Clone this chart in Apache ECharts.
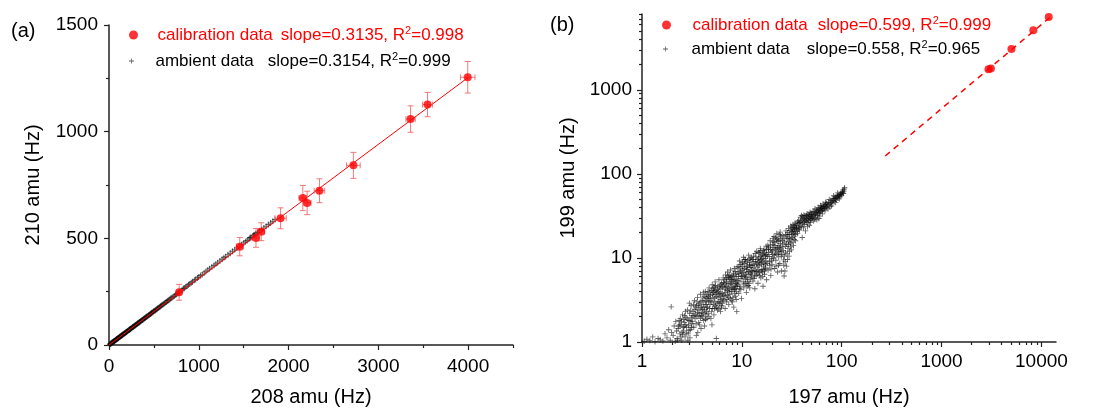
<!DOCTYPE html>
<html>
<head>
<meta charset="utf-8">
<script src="https://cdn.jsdelivr.net/npm/echarts@6.0.0/dist/echarts.min.js"></script>
<style>
  html, body { margin: 0; padding: 0; background: #fff; }
  #chart { width: 1110px; height: 412px; }
</style>
</head>
<body>
<div id="chart"></div>
<script>
// ---- panel (a) data: 208 amu vs 210 amu ----
var calA208 = [781, 1456, 1637, 1696, 1911, 2159, 2207, 2344, 2722, 3359, 3548, 3996];
var calA210 = [247, 461, 502, 531, 594, 689, 666, 723, 842, 1059, 1127, 1255];
var calA208Err = [22, 37, 37, 37, 63, 44, 44, 59, 76, 52, 55, 81];
var calA210Err = [37, 43, 44, 42, 49, 59, 55, 56, 61, 62, 57, 74];
var ambA = [
  [10,3],[14,5],[18,6],[22,7],[25,8],[29,9],[33,10],[36,12],[40,13],[44,14],[48,15],[52,16],
  [55,18],[58,18],[62,19],[66,21],[70,22],[74,24],[78,25],[82,26],[85,27],[89,28],[93,30],[97,30],
  [100,31],[105,33],[110,35],[114,36],[118,37],[122,39],[125,40],[130,41],[135,42],[138,44],
  [142,45],[146,46],[150,48],[155,49],[160,50],[165,52],[170,54],[174,55],[178,56],[183,58],
  [188,60],[192,60],[195,61],[200,63],[205,65],[210,66],[215,68],[220,70],[225,71],[228,72],
  [232,74],[236,74],[240,75],[245,78],[250,79],[256,81],[262,83],[266,84],[270,85],[275,87],
  [280,89],[285,90],[290,91],[295,93],[300,95],[306,96],[312,98],[316,100],[320,102],[326,103],
  [332,104],[336,106],[340,108],[346,109],[352,111],[358,113],[365,116],[370,117],[375,118],
  [382,120],[388,123],[394,124],[400,126],[406,128],[412,131],[418,132],[425,134],[432,136],
  [440,139],[448,141],[455,144],[462,146],[468,147],[474,150],[480,152],[488,154],[495,157],
  [502,159],[510,161],[518,163],[525,166],[532,168],[540,171],[550,174],[560,177],[568,179],
  [575,182],[582,184],[590,187],[600,190],[610,193],[620,196],[630,199],[640,202],[650,206],
  [660,209],[670,212],[680,215],[690,219],[702,222],[715,226],[728,230],[740,235],[752,238],
  [765,242],[778,246],[790,250],[815,259],[840,266],[870,277],[900,286],[930,296],[965,307],
  [1000,319],[1040,331],[1080,344],[1120,357],[1170,373],[1210,385],[1260,402],[1300,414],
  [1350,430],[1400,446],[1450,462],[1500,478],[1540,490],[1580,503],[1620,515],[1660,528],
  [1700,541],[1750,557],[1800,572],[1850,588],
  [830,265],[855,272],[885,282],[915,292],[950,303],[985,314],[1020,326],[1060,338],[1100,351],
  [1145,366],[1190,380],[1235,394],[1280,409],[1325,423],[1375,439],[1425,455],[1475,470],
  [1520,484],[1560,497],[1600,510],[1640,522],[1680,535],[1725,549],[1775,565],[1825,580],
  [1570,504],[1610,514],[1630,520],[1655,527]
];
var slopeA = 0.3135;
var fitA208 = [0, 4000];

// ---- panel (b) data: 197 amu vs 199 amu ----
var calB = [[2950, 1760], [3120, 1800], [5010, 3070], [8300, 5130], [11840, 7390]];
var slopeB = 0.599;
var fitB197 = [273, 12900];
var ambB = [
  [1.05,1.02],[1.12,1.08],[1.2,1.04],[1.28,1.15],[1.35,1.01],[1.45,1.1],[1.52,1.06],
  [1.62,1.03],[1.7,1.25],[1.78,1.12],[1.85,1.4],[1.92,1.05],[1.96,2.62],[2.05,1.2],[2.1,1.55],
  [2.15,1.02],[1.98,1.3],[2.18,1.75],
  [2.25,1.1],[2.3,1.45],[2.35,1.8],[2.4,1.25],[2.45,1.6],[2.5,1.05],[2.55,2.1],[2.6,1.35],
  [2.65,1.7],[2.7,1.15],[2.75,1.95],[2.8,1.5],[2.85,2.4],[2.9,1.25],[2.95,1.8],[3.0,2.2],
  [3.05,1.4],[3.1,2.7],[3.15,1.65],[2.42,1.9],[2.58,1.5],[2.72,2.3],[2.88,1.05],[3.02,1.12],
  [2.52,1.3],[2.68,2.05],[2.98,2.9],[3.12,1.95],[2.38,1.6],[2.62,1.85],
  [2.22,1.35],[2.28,1.05],[2.33,1.55],[2.44,1.15],[2.48,1.75],[2.56,1.22],[2.64,1.52],[2.74,1.62],
  [2.78,1.28],[2.84,1.88],[2.92,1.58],[2.96,1.38],[3.04,1.78],[3.08,2.35],[3.14,1.5],[3.18,2.05],
  [3.25,2.3],[3.3,1.5],[3.35,3.1],[3.4,1.9],[3.45,2.6],[3.5,1.2],[3.55,2.0],[3.6,3.4],
  [3.65,2.4],[3.7,1.7],[3.75,2.9],[3.8,2.2],[3.85,3.7],[3.9,1.45],[3.95,2.6],[4.0,3.1],
  [4.05,2.0],[4.1,2.8],[4.15,1.8],[4.2,3.5],[4.25,2.4],[4.3,4.0],[4.35,2.1],[4.4,3.0],
  [4.45,2.6],[3.28,2.8],[3.52,2.7],[3.78,1.6],[3.98,2.25],[4.22,1.55],[4.38,3.4],[3.62,1.3],
  [3.88,3.0],[4.12,3.9],[3.42,2.15],[4.48,1.9],
  [3.22,1.75],[3.32,2.05],[3.38,2.45],[3.48,1.65],[3.58,2.25],[3.68,2.75],[3.72,2.05],[3.82,2.55],
  [3.92,2.05],[4.02,2.45],[4.08,3.35],[4.18,2.6],[4.28,3.1],[4.32,1.85],[4.42,2.3],[4.46,3.7],
  [3.56,3.0],[3.86,1.9],[4.16,2.2],[4.36,2.8],
  [4.55,3.3],[4.6,2.2],[4.7,4.4],[4.8,2.8],[4.85,3.6],[4.9,1.9],[5.0,3.0],[5.05,4.8],
  [5.1,2.5],[5.2,3.9],[5.25,2.1],[5.3,3.3],[5.4,5.2],[5.45,2.7],[5.5,4.1],[5.55,1.1],
  [5.6,3.5],[5.7,2.4],[5.75,4.6],[5.8,3.0],[5.9,5.5],[5.95,2.9],[6.0,3.8],[6.1,2.3],
  [6.15,4.3],[6.2,3.2],[6.25,5.0],[4.65,3.0],[4.95,4.1],[5.15,3.4],[5.35,4.4],[5.65,2.9],
  [5.85,4.0],[6.05,3.5],[4.75,2.5],[5.48,3.7],[5.22,4.5],[6.28,2.7],[4.58,4.0],[5.02,1.6],
  [4.52,2.6],[4.62,3.5],[4.68,2.0],[4.78,3.9],[4.88,3.1],[4.98,2.3],[5.08,3.7],[5.18,2.8],
  [5.28,4.0],[5.38,3.0],[5.46,4.7],[5.58,2.6],[5.68,4.2],[5.78,3.4],[5.88,2.5],[5.98,4.5],
  [6.08,3.0],[6.18,3.7],[6.22,2.6],[5.12,4.3],[5.62,3.9],[6.12,4.8],[4.72,3.3],[5.32,2.5],
  [6.35,4.5],[6.4,2.9],[6.5,5.8],[6.6,3.6],[6.7,4.9],[6.8,2.5],[6.85,6.3],[6.9,3.9],
  [7.0,5.2],[7.1,3.2],[7.2,6.8],[7.3,4.4],[7.4,2.8],[7.5,5.6],[7.6,3.7],[7.7,7.2],
  [7.8,4.8],[7.9,3.1],[8.0,6.0],[8.1,4.2],[8.2,5.3],[8.3,2.6],[8.4,7.5],[8.5,4.6],
  [8.6,3.5],[8.7,6.4],[8.8,5.0],[8.9,2.3],[8.95,7.8],[6.45,3.3],[6.75,4.2],[7.05,4.6],
  [7.35,5.9],[7.65,5.0],[7.95,4.5],[8.25,6.6],[8.55,5.5],[8.85,4.0],[6.55,5.1],[7.15,3.6],
  [7.45,4.0],[7.85,5.5],[8.15,3.4],[8.65,4.3],[6.95,5.6],
  [6.38,3.8],[6.48,4.6],[6.58,3.1],[6.68,5.5],[6.78,3.5],[6.88,4.5],[6.98,3.0],[7.08,5.8],
  [7.18,4.1],[7.28,5.0],[7.38,3.4],[7.48,6.3],[7.58,4.3],[7.68,3.3],[7.78,6.0],[7.88,4.0],
  [7.98,5.2],[8.08,3.0],[8.18,6.2],[8.28,4.4],[8.38,5.6],[8.48,3.8],[8.58,6.9],[8.68,5.0],
  [8.78,3.2],[8.88,6.0],[8.92,4.6],[7.25,6.2],[7.75,5.8],[8.45,4.2],
  [9.1,5.4],[9.2,7.9],[9.3,3.8],[9.4,6.5],[9.5,9.2],[9.6,4.6],[9.7,7.0],[9.8,5.7],
  [9.9,3.3],[10.0,8.4],[10.2,6.1],[10.4,10.2],[10.5,4.9],[10.6,7.5],[10.8,5.6],[11.0,9.0],
  [11.1,3.9],[11.2,6.8],[11.4,8.0],[11.5,5.2],[11.7,10.8],[11.8,6.4],[12.0,4.4],[12.1,7.7],
  [12.3,9.5],[12.4,5.9],[12.5,7.1],[9.25,6.0],[9.65,8.4],[10.1,7.2],[10.3,5.2],[10.7,8.6],
  [11.3,7.3],[11.9,8.8],[12.2,6.6],[9.85,6.6],[10.9,6.3],[11.6,4.7],[12.45,10.2],[9.45,4.3],
  [10.55,9.6],[11.05,5.9],
  [9.05,4.8],[9.15,6.8],[9.35,5.2],[9.55,7.6],[9.75,4.2],[9.95,6.0],[10.15,8.9],[10.35,6.7],
  [10.45,4.4],[10.65,6.1],[10.85,9.6],[10.95,5.0],[11.15,7.8],[11.35,5.6],[11.45,9.4],[11.65,6.9],
  [11.85,5.0],[11.95,8.3],[12.15,5.6],[12.35,8.1],[12.55,6.3],[10.25,7.9],[11.25,4.6],[12.05,9.9],
  [12.7,8.2],[12.9,5.3],[13.1,10.5],[13.3,7.0],[13.5,4.3],[13.7,9.1],[13.9,6.2],[14.1,12.0],
  [14.3,7.8],[14.5,5.0],[14.7,10.0],[14.9,6.7],[15.1,8.7],[15.3,13.0],[15.5,5.8],[15.7,9.6],
  [15.9,7.3],[16.1,11.2],[16.3,4.6],[16.5,8.0],[16.7,12.5],[16.9,6.4],[17.1,9.9],[17.3,7.6],
  [17.5,13.8],[17.7,5.5],[13.0,7.6],[13.6,11.3],[14.0,8.5],[14.6,8.9],[15.0,11.5],[15.6,7.0],
  [16.0,9.0],[16.6,10.6],[17.2,8.4],[13.4,6.1],[14.8,7.2],[16.2,6.0],[17.6,11.0],[12.8,9.6],
  [15.4,10.4],[16.8,7.0],
  [12.75,6.8],[13.05,9.1],[13.25,5.7],[13.45,8.3],[13.65,7.0],[13.85,10.3],[14.05,6.9],[14.25,9.6],
  [14.45,6.4],[14.65,11.6],[14.85,8.2],[15.05,6.2],[15.25,9.3],[15.45,12.2],[15.65,8.4],[15.85,10.8],
  [16.05,6.8],[16.25,9.9],[16.45,12.2],[16.65,8.7],[16.85,11.5],[17.05,7.4],[17.25,10.8],[17.45,9.2],
  [17.65,12.6],
  [18.0,10.5],[18.3,7.2],[18.6,13.5],[18.9,9.0],[19.2,16.0],[19.5,6.2],[19.8,11.8],[20.1,8.3],
  [20.4,14.5],[20.7,10.0],[21.0,18.0],[21.3,7.5],[21.6,12.5],[21.9,9.4],[22.2,16.5],[22.5,11.0],
  [22.8,6.8],[23.1,14.0],[23.4,10.3],[23.7,19.0],[24.0,8.6],[24.3,12.8],[24.6,16.8],[24.9,7.0],
  [18.5,11.6],[19.4,12.6],[20.0,9.8],[20.9,13.3],[21.8,11.4],[22.7,13.2],[23.6,12.0],[24.4,14.8],
  [19.0,8.1],[21.1,15.2],[22.0,8.0],[23.0,17.2],[24.8,10.5],[18.2,14.2],[20.5,17.0],[22.4,19.5],
  [24.2,20.3],
  [17.9,8.6],[18.4,12.8],[18.8,10.4],[19.3,14.2],[19.7,9.2],[20.2,12.2],[20.6,15.6],[21.2,10.8],
  [21.5,14.0],[22.1,12.8],[22.6,15.8],[23.2,11.5],[23.5,16.0],[23.9,13.4],[24.5,18.2],[24.7,12.0],
  [19.6,7.4],[21.7,17.6],[23.3,8.2],[20.3,11.0],
  [25.3,13.5],[25.7,18.5],[26.1,9.5],[26.5,6.1],[26.9,15.5],[27.3,11.5],[27.7,21.0],[28.1,8.0],
  [28.5,17.0],[28.9,13.0],[29.3,22.5],[29.7,10.5],[30.1,19.0],[30.5,15.0],[30.9,24.0],[31.3,12.5],
  [31.7,20.5],[32.1,17.5],[32.5,25.0],[32.9,14.0],[33.3,21.5],[33.7,18.2],[34.1,26.0],[34.5,16.0],
  [34.9,22.8],[26.0,12.2],[27.0,7.0],[28.0,14.6],[29.0,18.8],[30.0,12.0],[31.0,16.8],[32.0,22.0],
  [33.0,19.6],[34.0,20.4],[25.5,16.0],[27.5,19.0],[29.5,15.8],[31.5,23.2],[33.5,24.4],[26.3,8.2],
  [25.2,11.0],[25.8,14.6],[26.4,17.2],[26.8,10.5],[27.4,13.8],[27.9,17.8],[28.4,11.2],[28.8,20.0],
  [29.4,14.4],[29.9,17.0],[30.4,21.2],[30.8,13.6],[31.4,19.2],[31.8,15.4],[32.4,20.6],[32.8,23.2],
  [33.4,16.6],[33.9,22.6],[34.4,19.0],[34.8,24.8],[27.2,9.0],[28.6,9.6],
  [35.5,24.0],[36.2,19.5],[37.0,28.0],[37.8,21.5],[38.6,30.5],[39.4,23.5],[40.2,17.5],[41.0,27.5],
  [41.8,32.5],[42.6,25.0],[43.4,21.0],[44.2,29.5],[45.0,33.5],[45.8,26.5],[46.6,30.0],[47.4,24.5],
  [48.2,35.0],[49.0,28.5],[49.8,31.5],[36.6,25.8],[38.2,26.4],[39.8,29.0],[41.4,22.8],[43.0,30.2],
  [44.6,27.0],[46.2,33.0],[47.8,29.6],[49.4,34.2],[40.6,31.0],[42.2,28.4],[45.4,23.6],[48.6,26.5],
  [37.4,23.0],[35.8,20.8],
  [35.2,22.4],[36.0,27.0],[36.8,22.0],[37.6,26.2],[38.4,24.0],[39.0,27.4],[39.6,32.0],[40.4,25.6],
  [41.2,29.6],[42.0,26.6],[42.8,31.8],[43.6,27.8],[44.4,32.0],[45.2,28.6],[46.0,31.2],[46.8,27.6],
  [47.6,32.6],[48.4,30.8],[49.2,32.8],[49.6,29.4],
  [50.8,30.0],[51.6,35.5],[52.4,27.5],[53.2,33.0],[54.0,38.5],[54.8,30.5],[55.6,35.0],[56.4,28.5],
  [57.2,32.0],[58.0,40.0],[58.8,34.5],[59.6,37.5],[60.4,31.5],[61.2,42.0],[62.0,36.0],[63.0,39.5],
  [64.0,33.5],[65.0,44.0],[66.0,38.0],[67.0,41.5],[68.0,36.5],[69.0,46.0],[70.0,40.5],[52.0,31.8],
  [55.0,32.6],[57.6,36.8],[60.0,34.2],[62.6,38.8],[65.6,41.0],[68.6,43.2],[53.6,29.0],[59.0,29.5],
  [63.8,36.8],
  [50.4,33.0],[51.2,29.6],[52.8,35.8],[54.4,34.0],[56.0,37.2],[57.0,34.4],[58.4,37.8],[60.8,39.2],
  [61.6,35.4],[62.4,41.2],[64.4,38.8],[66.4,40.2],[67.6,38.6],[69.6,42.6],[70.6,44.8],
  [72,42.5],[74,46.0],[76,40.5],[78,48.5],[80,44.0],[82,51.0],[84,47.0],[86,53.5],
  [88,49.0],[90,55.0],[92,51.5],[94,57.5],[96,53.5],[98,59.0],[100,56.0],[102,62.0],
  [104,58.5],[106,66.0],[107,68.5],[73,38.5],[77,44.8],[81,47.8],[85,50.5],[89,52.6],
  [93,54.8],[97,57.0],[101,60.0],[83,55.0],[91,59.5],[79,41.5],[87,45.8],[95,50.5],
  [103,64.5],[75,49.6],
  [71,40.0],[74.5,43.0],[78.5,45.6],[82.5,48.6],[86.5,51.0],[90.5,53.0],[94.5,55.6],[98.5,56.8],
  [102.5,59.5],[105,62.5]
];

// ---- ticks ----
var ticksA208 = [0, 1000, 2000, 3000, 4000];
var minorA208 = [500, 1500, 2500, 3500, 4500];
var ticksB197 = [1, 10, 100, 1000, 10000];
var ticksB199 = [1, 10, 100, 1000];
var minorB197 = [2,3,4,5,6,7,8,9,20,30,40,50,60,70,80,90,200,300,400,500,600,700,800,900,
                 2000,3000,4000,5000,6000,7000,8000,9000];
var minorB199 = [2,3,4,5,6,7,8,9,20,30,40,50,60,70,80,90,200,300,400,500,600,700,800,900,
                 2000,3000,4000,5000,6000,7000,8000];

var legendTextA = ['slope=0.3135, R', '=0.998', 'slope=0.3154, R', '=0.999'];
var legendTextB = ['slope=0.599, R', '=0.999', 'slope=0.558, R', '=0.965'];

var FONT = '"Liberation Sans", Arial, sans-serif';
var RED = '#ff0000';
var ERR = 'rgba(238, 90, 90, 0.8)';
var PLUS = 'path://M4.2,0H5.8V4.2H10V5.8H5.8V10H4.2V5.8H0V4.2H4.2Z';

var chart = echarts.init(document.getElementById('chart'));

function plainNum(v) { return String(Math.round(v)); }
function axisLine() {
  return { show: true, onZero: false, lineStyle: { color: '#222', width: 1.5 } };
}
function labelStyle(extra) {
  var s = { color: '#000', fontSize: 19, fontFamily: FONT, formatter: plainNum };
  for (var k in extra) s[k] = extra[k];
  return s;
}
function minorAxis(grid, type, min, max, values, pos) {
  return {
    gridIndex: grid, type: type, min: min, max: max, position: pos,
    axisLine: { show: false, onZero: false },
    axisLabel: { show: false },
    splitLine: { show: false },
    axisTick: { show: true, customValues: values, length: 3, lineStyle: { color: '#222', width: 1.2 } }
  };
}
function richText(color, gap) {
  return {
    n: { color: color, fontSize: 17, fontFamily: FONT, lineHeight: 20, padding: [0, gap, 0, 0] },
    s: { color: color, fontSize: 17, fontFamily: FONT, lineHeight: 20 },
    p: { color: color, fontSize: 11, fontFamily: FONT, lineHeight: 12, verticalAlign: 'top' }
  };
}
function legendItem(left, top, width, size, name, icon, color, gap, txt) {
  return {
    left: left, top: top, orient: 'vertical', padding: 0, selectedMode: false,
    itemWidth: width, itemHeight: size,
    data: [{ name: name, icon: icon }],
    formatter: function (n) { return '{n|' + n + '}{s|' + txt[0] + '}{p|2}{s|' + txt[1] + '}'; },
    textStyle: { rich: richText(color, gap) }
  };
}

function renderErrorBar(params, api) {
  var x = api.value(0), y = api.value(1), ex = api.value(2), ey = api.value(3);
  var top = api.coord([x, y + ey]), bot = api.coord([x, y - ey]);
  var lft = api.coord([x - ex, y]), rgt = api.coord([x + ex, y]);
  var cap = 3;
  var st = { stroke: ERR, lineWidth: 1, fill: null };
  return {
    type: 'group',
    children: [
      { type: 'line', shape: { x1: top[0], y1: top[1], x2: bot[0], y2: bot[1] }, style: st },
      { type: 'line', shape: { x1: top[0] - cap, y1: top[1], x2: top[0] + cap, y2: top[1] }, style: st },
      { type: 'line', shape: { x1: bot[0] - cap, y1: bot[1], x2: bot[0] + cap, y2: bot[1] }, style: st },
      { type: 'line', shape: { x1: lft[0], y1: lft[1], x2: rgt[0], y2: rgt[1] }, style: st },
      { type: 'line', shape: { x1: lft[0], y1: lft[1] - cap, x2: lft[0], y2: lft[1] + cap }, style: st },
      { type: 'line', shape: { x1: rgt[0], y1: rgt[1] - cap, x2: rgt[0], y2: rgt[1] + cap }, style: st }
    ]
  };
}

var calAData = calA208.map(function (v, i) { return [v, calA210[i]]; });
var errAData = calA208.map(function (v, i) { return [v, calA210[i], calA208Err[i], calA210Err[i]]; });
var fitAData = fitA208.map(function (v) { return [v, v * slopeA]; });
var fitBData = fitB197.map(function (v) { return [v, v * slopeB]; });

var option = {
  backgroundColor: '#fff',
  animation: false,
  textStyle: { fontFamily: FONT },
  title: [
    { text: '(a)', left: 11, top: 21, padding: 0, textStyle: { fontSize: 20, fontWeight: 'normal', color: '#000', fontFamily: FONT } },
    { text: '(b)', left: 550, top: 15, padding: 0, textStyle: { fontSize: 20, fontWeight: 'normal', color: '#000', fontFamily: FONT } }
  ],
  legend: [
    legendItem(129, 25, 38, 9, 'calibration data', 'circle', RED, 8, legendTextA.slice(0, 2)),
    legendItem(129, 51, 38, 5, 'ambient data', PLUS, '#000', 14, legendTextA.slice(2, 4)),
    legendItem(662, 15, 42, 9, 'calibration data', 'circle', RED, 10, legendTextB.slice(0, 2)),
    legendItem(663, 39, 42, 5, 'ambient data', PLUS, '#000', 17, legendTextB.slice(2, 4))
  ],
  grid: [
    { left: 109, top: 25, right: 597, bottom: 67, containLabel: false },
    { left: 642, top: 14, right: 54, bottom: 70, containLabel: false }
  ],
  xAxis: [
    {
      gridIndex: 0, type: 'value', min: 0, max: 4500, position: 'bottom',
      name: '208 amu (Hz)', nameLocation: 'middle', nameGap: 42,
      nameTextStyle: { color: '#000', fontSize: 20, fontFamily: FONT },
      axisLine: axisLine(),
      axisTick: { show: true, customValues: ticksA208, length: 5, lineStyle: { color: '#222', width: 1.2 } },
      axisLabel: labelStyle({ customValues: ticksA208, margin: 12 }),
      splitLine: { show: false }
    },
    minorAxis(0, 'value', 0, 4500, minorA208, 'bottom'),
    {
      gridIndex: 1, type: 'log', logBase: 10, min: 1, max: 14000, position: 'bottom',
      name: '197 amu (Hz)', nameLocation: 'middle', nameGap: 45,
      nameTextStyle: { color: '#000', fontSize: 20, fontFamily: FONT },
      axisLine: axisLine(),
      axisTick: { show: true, customValues: ticksB197, length: 5, lineStyle: { color: '#222', width: 1.2 } },
      axisLabel: labelStyle({ customValues: ticksB197, margin: 10 }),
      splitLine: { show: false }
    },
    minorAxis(1, 'log', 1, 14000, minorB197, 'bottom')
  ],
  yAxis: [
    {
      gridIndex: 0, type: 'value', min: 0, max: 1500, interval: 500, position: 'left',
      name: '210 amu (Hz)', nameLocation: 'middle', nameGap: 66,
      nameTextStyle: { color: '#000', fontSize: 20, fontFamily: FONT },
      axisLine: axisLine(),
      axisTick: { show: true, length: 5, lineStyle: { color: '#222', width: 1.2 } },
      minorTick: { show: true, splitNumber: 2, length: 3, lineStyle: { color: '#222', width: 1.2 } },
      axisLabel: labelStyle({ margin: 11 }),
      splitLine: { show: false }
    },
    {
      gridIndex: 1, type: 'log', logBase: 10, min: 1, max: 8000, position: 'left',
      name: '199 amu (Hz)', nameLocation: 'middle', nameGap: 64,
      nameTextStyle: { color: '#000', fontSize: 20, fontFamily: FONT },
      axisLine: axisLine(),
      axisTick: { show: true, customValues: ticksB199, length: 5, lineStyle: { color: '#222', width: 1.2 } },
      axisLabel: labelStyle({ customValues: ticksB199, margin: 10 }),
      splitLine: { show: false }
    },
    minorAxis(1, 'log', 1, 8000, minorB199, 'left')
  ],
  series: [
    {
      name: 'ambient data', type: 'scatter', xAxisIndex: 0, yAxisIndex: 0,
      data: ambA, symbol: PLUS, symbolSize: 6,
      itemStyle: { color: 'rgba(10,10,10,0.8)' }, z: 2
    },
    {
      name: 'fitA', type: 'line', xAxisIndex: 0, yAxisIndex: 0,
      data: fitAData, showSymbol: false, symbol: 'none',
      lineStyle: { color: RED, width: 1 }, z: 3
    },
    {
      name: 'errA', type: 'custom', xAxisIndex: 0, yAxisIndex: 0,
      data: errAData, renderItem: renderErrorBar, z: 4
    },
    {
      name: 'calibration data', type: 'scatter', xAxisIndex: 0, yAxisIndex: 0,
      data: calAData, symbol: 'circle', symbolSize: 8,
      itemStyle: { color: RED }, z: 5
    },
    {
      name: 'ambient data', type: 'scatter', xAxisIndex: 2, yAxisIndex: 1,
      data: ambB, symbol: PLUS, symbolSize: 5.5,
      itemStyle: { color: 'rgba(10,10,10,0.8)' }, z: 2
    },
    {
      name: 'fitB', type: 'line', xAxisIndex: 2, yAxisIndex: 1,
      data: fitBData, showSymbol: false, symbol: 'none',
      lineStyle: { color: RED, width: 1.5, type: [6, 5] }, z: 3
    },
    {
      name: 'calibration data', type: 'scatter', xAxisIndex: 2, yAxisIndex: 1,
      data: calB, symbol: 'circle', symbolSize: 8,
      itemStyle: { color: RED }, z: 5
    }
  ]
};

chart.setOption(option);
</script>
</body>
</html>
